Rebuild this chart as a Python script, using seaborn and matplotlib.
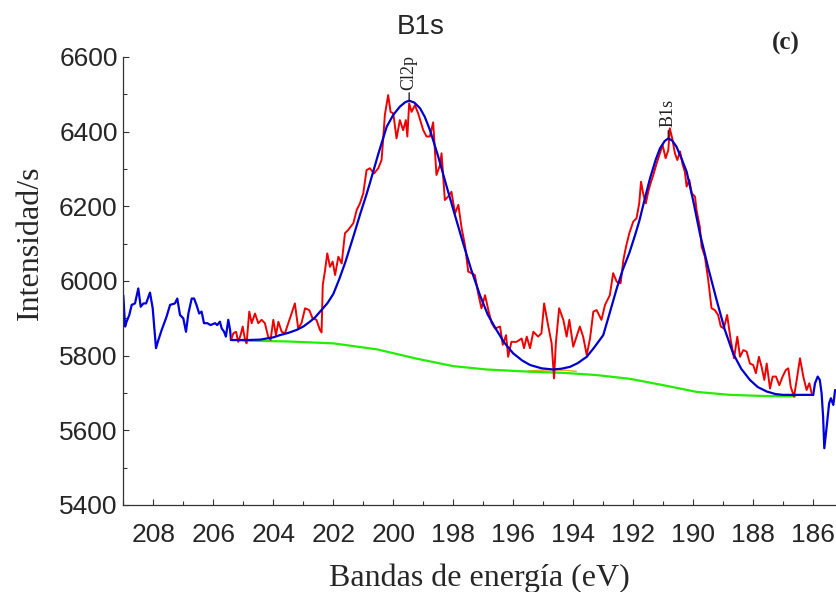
import numpy as np
import pandas as pd
import matplotlib
matplotlib.use("Agg")
import matplotlib.pyplot as plt
from matplotlib.ticker import MultipleLocator
import seaborn as sns

# raw survey (blue), outside the fitted window
raw_left_ev = [209.00, 208.94, 208.89, 208.80, 208.72, 208.61, 208.50, 208.42, 208.33, 208.24,
               208.11, 208.02, 207.91, 207.83, 207.72, 207.56, 207.44, 207.28, 207.20, 207.11,
               207.00, 206.91, 206.83, 206.72, 206.64, 206.56, 206.47, 206.39, 206.31, 206.20,
               206.09, 205.94, 205.87, 205.78, 205.72, 205.64, 205.58, 205.50, 205.44, 205.41]
raw_left_cps = [5962, 5878, 5891, 5909, 5936, 5940, 5980, 5931, 5940, 5940,
                5969, 5927, 5820, 5842, 5869, 5904, 5936, 5940, 5953, 5909,
                5900, 5864, 5913, 5953, 5953, 5936, 5913, 5918, 5887, 5887,
                5882, 5887, 5882, 5891, 5873, 5864, 5851, 5896, 5869, 5842]
raw_right_ev = [186.00, 185.94, 185.85, 185.78, 185.72, 185.67, 185.63, 185.55, 185.47, 185.41,
                185.33, 185.27]
raw_right_cps = [5695, 5726, 5744, 5735, 5699, 5637, 5552, 5610, 5672, 5686,
                 5668, 5708]

# measured data inside the fit window (red)
data_ev = [205.41, 205.33, 205.24, 205.17, 205.09, 205.02, 204.94, 204.89, 204.80, 204.72,
           204.61, 204.50, 204.39, 204.28, 204.17, 204.09, 204.00, 203.91, 203.83, 203.72,
           203.61, 203.50, 203.39, 203.28, 203.17, 203.06, 202.94, 202.80, 202.69, 202.56,
           202.45, 202.39, 202.35, 202.28, 202.20, 202.11, 202.02, 201.94, 201.83, 201.72,
           201.61, 201.50, 201.33, 201.22, 201.11, 201.00, 200.89, 200.78, 200.64, 200.50,
           200.39, 200.33, 200.28, 200.17, 200.09, 200.00, 199.89, 199.78, 199.67, 199.58,
           199.53, 199.47, 199.39, 199.28, 199.17, 199.00, 198.89, 198.78, 198.67, 198.56,
           198.44, 198.39, 198.28, 198.17, 198.06, 197.94, 197.83, 197.72, 197.61, 197.50,
           197.39, 197.28, 197.17, 197.06, 196.94, 196.83, 196.72, 196.61, 196.44, 196.35,
           196.24, 196.17, 196.06, 195.89, 195.72, 195.64, 195.55, 195.44, 195.33, 195.17,
           195.06, 194.97, 194.83, 194.72, 194.64, 194.58, 194.47, 194.33, 194.22, 194.13,
           194.00, 193.89, 193.78, 193.67, 193.55, 193.44, 193.33, 193.22, 193.06, 192.94,
           192.78, 192.67, 192.55, 192.42, 192.33, 192.24, 192.13, 192.00, 191.89, 191.80,
           191.74, 191.67, 191.58, 191.50, 191.42, 191.33, 191.22, 191.11, 191.02, 190.92,
           190.83, 190.78, 190.70, 190.61, 190.53, 190.44, 190.35, 190.28, 190.22, 190.13,
           190.05, 189.94, 189.89, 189.78, 189.72, 189.61, 189.50, 189.39, 189.28, 189.17,
           189.08, 188.98, 188.87, 188.75, 188.64, 188.53, 188.44, 188.33, 188.22, 188.11,
           188.00, 187.91, 187.81, 187.72, 187.63, 187.55, 187.44, 187.35, 187.24, 187.13,
           187.02, 186.91, 186.83, 186.75, 186.64, 186.55, 186.44, 186.33, 186.22, 186.13, 186.05]
data_cps = [5842, 5860, 5864, 5837, 5855, 5878, 5842, 5833, 5918, 5887,
            5913, 5887, 5896, 5887, 5851, 5842, 5896, 5855, 5891, 5864,
            5860, 5887, 5913, 5940, 5873, 5887, 5927, 5922, 5900, 5896,
            5870, 5862, 5990, 6025, 6074, 6038, 6052, 6016, 6065, 6047,
            6128, 6137, 6155, 6190, 6208, 6235, 6297, 6302, 6288, 6302,
            6324, 6387, 6445, 6498, 6453, 6449, 6382, 6431, 6404, 6431,
            6387, 6476, 6453, 6471, 6449, 6404, 6387, 6387, 6425, 6284,
            6311, 6342, 6217, 6226, 6239, 6181, 6204, 6141, 6096, 6025,
            6021, 6016, 5967, 5927, 5962, 5922, 5887, 5873, 5878, 5829,
            5855, 5797, 5837, 5837, 5846, 5820, 5851, 5820, 5864, 5851,
            5860, 5940, 5878, 5833, 5739, 5833, 5927, 5896, 5851, 5896,
            5824, 5851, 5878, 5851, 5802, 5846, 5918, 5922, 5896, 5936,
            5962, 6021, 5998, 5994, 6056, 6092, 6128, 6159, 6168, 6208,
            6266, 6235, 6208, 6239, 6262, 6284, 6315, 6342, 6364, 6329,
            6351, 6409, 6382, 6342, 6324, 6347, 6311, 6293, 6253, 6271,
            6235, 6226, 6190, 6145, 6092, 6065, 6003, 5927, 5922, 5909,
            5878, 5873, 5909, 5842, 5793, 5851, 5797, 5815, 5811, 5779,
            5775, 5753, 5797, 5770, 5735, 5779, 5712, 5744, 5744, 5721,
            5744, 5762, 5766, 5717, 5690, 5735, 5793, 5744, 5708, 5726, 5699]

# fitted envelope (blue)
fit_ev = [205.41, 204.80, 204.44, 204.00, 203.78, 203.50, 203.22, 203.00, 202.78, 202.60,
          202.44, 202.20, 202.00, 201.80, 201.60, 201.33, 201.10, 200.90, 200.78, 200.50,
          200.22, 200.00, 199.78, 199.60, 199.47, 199.30, 199.11, 198.95, 198.78, 198.65,
          198.50, 198.22, 197.95, 197.67, 197.40, 197.11, 196.85, 196.56, 196.30, 196.00,
          195.70, 195.44, 195.05, 194.67, 194.40, 194.11, 193.85, 193.55, 193.30, 193.00,
          192.80, 192.55, 192.35, 192.13, 191.95, 191.80, 191.60, 191.44, 191.25, 191.11,
          190.95, 190.83, 190.70, 190.56, 190.40, 190.22, 190.00, 189.78, 189.50, 189.22,
          188.95, 188.67, 188.40, 188.11, 187.85, 187.55, 187.25, 187.00, 186.00]
fit_cps = [5842, 5842, 5843, 5849, 5855, 5861, 5869, 5878, 5891, 5903,
           5918, 5940, 5965, 6005, 6050, 6119, 6180, 6230, 6262, 6340,
           6413, 6445, 6467, 6479, 6483, 6478, 6463, 6440, 6405, 6372,
           6333, 6253, 6178, 6101, 6030, 5962, 5910, 5869, 5835, 5806,
           5787, 5775, 5766, 5763, 5765, 5770, 5780, 5797, 5822, 5855,
           5910, 5980, 6030, 6075, 6120, 6160, 6225, 6275, 6325, 6355,
           6375, 6382, 6376, 6360, 6330, 6293, 6215, 6128, 6035, 5949,
           5870, 5806, 5765, 5735, 5716, 5704, 5697, 5695, 5695]

# background (green)
bg_ev = [205.41, 204.76, 203.50, 202.00, 200.55, 199.22, 198.00, 196.89, 195.44, 194.33,
         193.22, 192.11, 191.00, 189.89, 188.78, 187.67, 186.60]
bg_cps = [5842, 5840, 5838, 5833, 5817, 5792, 5772, 5763, 5757, 5754,
          5748, 5738, 5721, 5703, 5695, 5692, 5691]

# small component trace visible near the valley (orange)
comp_ev = [195.50, 195.10, 194.70, 194.30, 193.90]
comp_cps = [5759, 5761, 5762, 5761, 5758]

peak_names = ["Cl2p", "B1s"]
peak_ev = [199.47, 190.83]
peak_top = [6483, 6382]

sns.set_style("ticks")
plt.rcParams["font.family"] = ["Liberation Sans", "DejaVu Sans"]

fig = plt.figure(figsize=(8.36, 5.92), dpi=100)
ax = fig.add_axes([123.3 / 836, 1 - 505 / 592, 1 - 123.3 / 836, (505 - 57) / 592])

kw = dict(ax=ax, sort=False, estimator=None, legend=False)
sns.lineplot(x=raw_left_ev, y=raw_left_cps, color="#0000dd", lw=1.6, **kw)
sns.lineplot(x=raw_right_ev, y=raw_right_cps, color="#0000dd", lw=1.6, **kw)
sns.lineplot(x=comp_ev, y=comp_cps, color="#f0a020", lw=1.0, **kw)
sns.lineplot(x=bg_ev, y=bg_cps, color="#22ee00", lw=1.6, **kw)
sns.lineplot(x=data_ev, y=data_cps, color="#ee0000", lw=1.4, **kw)
sns.lineplot(x=fit_ev, y=fit_cps, color="#0000cc", lw=1.6, **kw)

ax.set_xlim(209.0, 185.24)
ax.set_ylim(5400, 6600)
ax.xaxis.set_major_locator(MultipleLocator(2))
ax.xaxis.set_minor_locator(MultipleLocator(1))
ax.yaxis.set_major_locator(MultipleLocator(200))
ax.yaxis.set_minor_locator(MultipleLocator(100))
ax.tick_params(which="both", direction="in", color="#333333", width=0.8)
ax.tick_params(which="major", length=4, labelsize=19)
ax.tick_params(which="minor", length=3)
ax.tick_params(axis="x", pad=13)
ax.tick_params(axis="y", pad=4)
for side in ["top", "right"]:
    ax.spines[side].set_visible(False)
for side in ["left", "bottom"]:
    ax.spines[side].set_color("#333333")
    ax.spines[side].set_linewidth(0.9)
ax.set_xlabel("")
ax.set_ylabel("")

for name, xe, yt in zip(peak_names, peak_ev, peak_top):
    ax.annotate(name, xy=(xe, yt), xytext=(0, 8), textcoords="offset points",
                rotation=90, ha="center", va="bottom", fontsize=13,
                family="Liberation Serif", color="#222222",
                arrowprops=dict(arrowstyle="-", color="#222222", lw=1.0,
                                shrinkA=0, shrinkB=0))

fig.text(421 / 836, 1 - 27 / 592, "B1s", ha="center", va="center", fontsize=20)
fig.text(786 / 836, 1 - 43 / 592, "(c)", ha="center", va="center", fontsize=18,
         fontweight="bold", family="Liberation Serif")
fig.text(479 / 836, 1 - 578 / 592, "Bandas de energía (eV)", ha="center", va="center",
         fontsize=23, family="Liberation Serif")
fig.text(30 / 836, 1 - 243 / 592, "Intensidad/s", ha="center", va="center", rotation=90,
         fontsize=23, family="Liberation Serif")

fig.savefig("out.png", dpi=100)
